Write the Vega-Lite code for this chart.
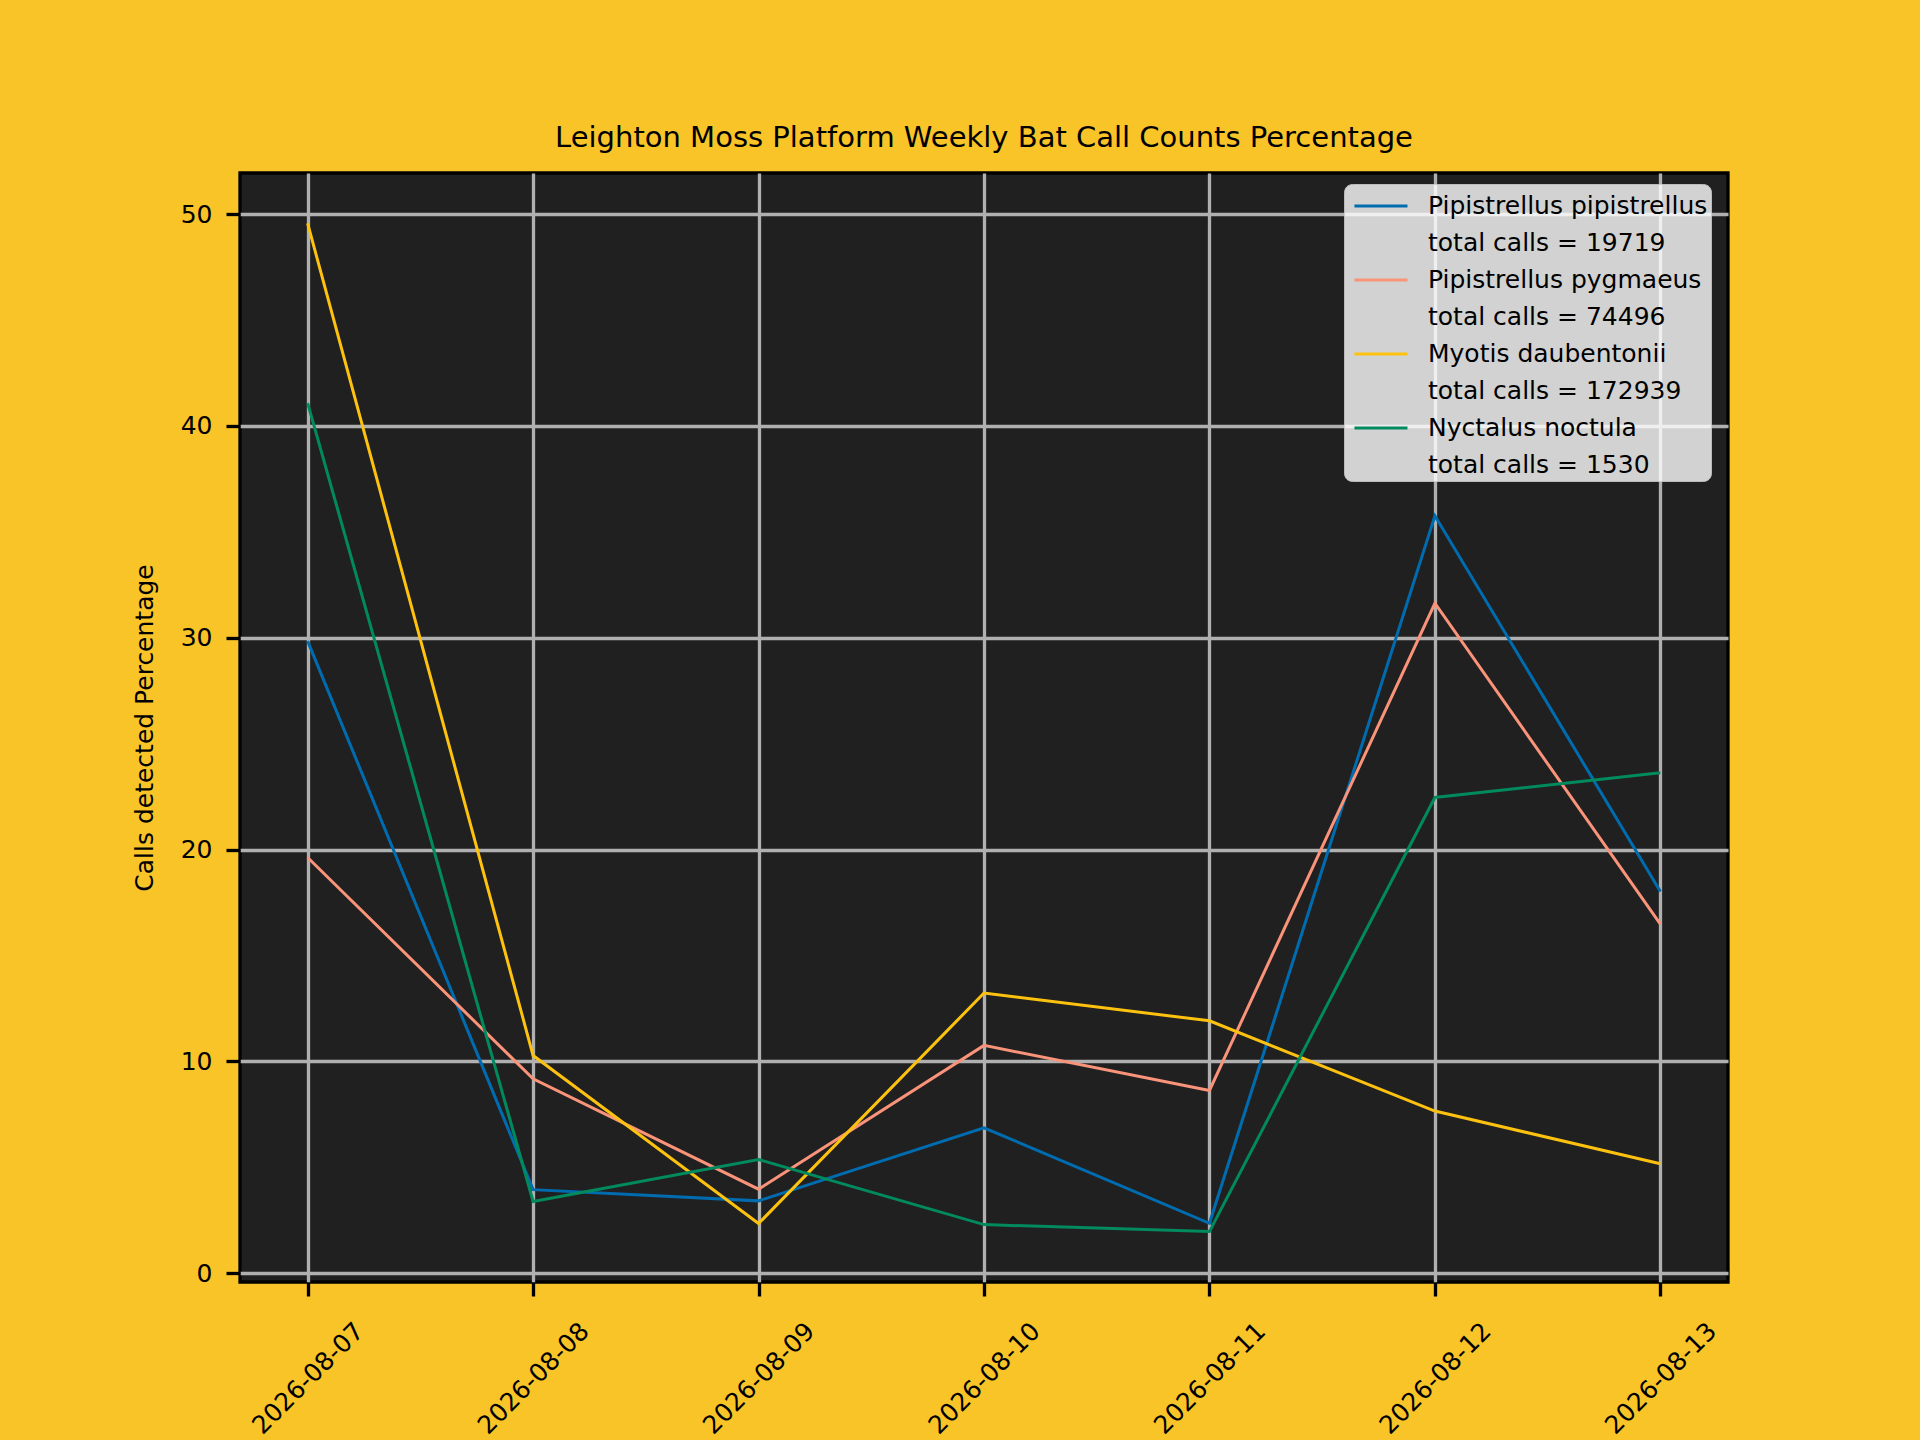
{
  "$schema": "https://vega.github.io/schema/vega-lite/v6.json",
  "autosize": {"type": "none"},
  "padding": {"left": 240, "top": 173, "right": 192, "bottom": 158},
  "width": 1488,
  "height": 1109,
  "background": "#f8c428",
  "title": {
    "text": "Leighton Moss Platform Weekly Bat Call Counts Percentage",
    "font": "DejaVu Sans",
    "fontSize": 29,
    "fontWeight": "normal",
    "color": "black",
    "anchor": "middle",
    "frame": "group",
    "baseline": "alphabetic",
    "offset": 27,
    "dy": 30
  },
  "data": {
    "values": [
      {"date": "2026-08-07", "species": "Pipistrellus pipistrellus", "percentage": 29.84},
      {"date": "2026-08-08", "species": "Pipistrellus pipistrellus", "percentage": 3.95},
      {"date": "2026-08-09", "species": "Pipistrellus pipistrellus", "percentage": 3.42},
      {"date": "2026-08-10", "species": "Pipistrellus pipistrellus", "percentage": 6.87},
      {"date": "2026-08-11", "species": "Pipistrellus pipistrellus", "percentage": 2.36},
      {"date": "2026-08-12", "species": "Pipistrellus pipistrellus", "percentage": 35.76},
      {"date": "2026-08-13", "species": "Pipistrellus pipistrellus", "percentage": 18.02},
      {"date": "2026-08-07", "species": "Pipistrellus pygmaeus", "percentage": 19.63},
      {"date": "2026-08-08", "species": "Pipistrellus pygmaeus", "percentage": 9.18},
      {"date": "2026-08-09", "species": "Pipistrellus pygmaeus", "percentage": 3.97},
      {"date": "2026-08-10", "species": "Pipistrellus pygmaeus", "percentage": 10.76},
      {"date": "2026-08-11", "species": "Pipistrellus pygmaeus", "percentage": 8.63},
      {"date": "2026-08-12", "species": "Pipistrellus pygmaeus", "percentage": 31.63},
      {"date": "2026-08-13", "species": "Pipistrellus pygmaeus", "percentage": 16.48},
      {"date": "2026-08-07", "species": "Myotis daubentonii", "percentage": 49.56},
      {"date": "2026-08-08", "species": "Myotis daubentonii", "percentage": 10.28},
      {"date": "2026-08-09", "species": "Myotis daubentonii", "percentage": 2.35},
      {"date": "2026-08-10", "species": "Myotis daubentonii", "percentage": 13.23},
      {"date": "2026-08-11", "species": "Myotis daubentonii", "percentage": 11.92},
      {"date": "2026-08-12", "species": "Myotis daubentonii", "percentage": 7.66},
      {"date": "2026-08-13", "species": "Myotis daubentonii", "percentage": 5.17},
      {"date": "2026-08-07", "species": "Nyctalus noctula", "percentage": 41.08},
      {"date": "2026-08-08", "species": "Nyctalus noctula", "percentage": 3.39},
      {"date": "2026-08-09", "species": "Nyctalus noctula", "percentage": 5.37},
      {"date": "2026-08-10", "species": "Nyctalus noctula", "percentage": 2.3},
      {"date": "2026-08-11", "species": "Nyctalus noctula", "percentage": 1.97},
      {"date": "2026-08-12", "species": "Nyctalus noctula", "percentage": 22.46},
      {"date": "2026-08-13", "species": "Nyctalus noctula", "percentage": 23.63}
    ]
  },
  "mark": {"type": "line", "strokeWidth": 3},
  "encoding": {
    "x": {
      "field": "date",
      "type": "ordinal",
      "scale": {"type": "point", "padding": 0.3},
      "axis": {
        "title": null,
        "labelAngle": -45,
        "labelAlign": "center",
        "labelBaseline": "middle",
        "labelPadding": 82,
        "labelFont": "DejaVu Sans",
        "labelFontSize": 25,
        "labelColor": "black",
        "tickSize": 14,
        "tickWidth": 3.3,
        "tickColor": "black",
        "domain": false,
        "grid": true,
        "gridColor": "#b0b0b0",
        "gridWidth": 3.3
      }
    },
    "y": {
      "field": "percentage",
      "type": "quantitative",
      "scale": {"domain": [-0.41, 51.94], "nice": false, "zero": false},
      "axis": {
        "title": "Calls detected Percentage",
        "titleFont": "DejaVu Sans",
        "titleFontSize": 25,
        "titleFontWeight": "normal",
        "titleColor": "black",
        "titlePadding": 23,
        "values": [0, 10, 20, 30, 40, 50],
        "labelFont": "DejaVu Sans",
        "labelFontSize": 25,
        "labelColor": "black",
        "labelPadding": 14,
        "tickSize": 14,
        "tickWidth": 3.3,
        "tickColor": "black",
        "domain": false,
        "grid": true,
        "gridColor": "#b0b0b0",
        "gridWidth": 3.3
      }
    },
    "color": {
      "field": "species",
      "type": "nominal",
      "sort": null,
      "scale": {
        "domain": [
          "Pipistrellus pipistrellus", "total calls = 19719",
          "Pipistrellus pygmaeus", "total calls = 74496",
          "Myotis daubentonii", "total calls = 172939",
          "Nyctalus noctula", "total calls = 1530"
        ],
        "range": [
          "#006cb0", "transparent",
          "#f99379", "transparent",
          "#fdc20f", "transparent",
          "#008a5e", "transparent"
        ]
      },
      "legend": {
        "title": null,
        "orient": "none",
        "legendX": 1104,
        "legendY": 11,
        "fillColor": "rgba(255,255,255,0.8)",
        "strokeColor": "rgba(204,204,204,0.8)",
        "cornerRadius": 8,
        "padding": 3,
        "symbolType": "M-0.66,0H2.37",
        "symbolSize": 1225,
        "symbolStrokeWidth": 3,
        "labelFont": "DejaVu Sans",
        "labelFontSize": 25,
        "labelColor": "black",
        "labelOffset": 43,
        "labelLimit": 500,
        "rowPadding": 5
      }
    }
  },
  "config": {
    "view": {"fill": "#202020", "stroke": "black", "strokeWidth": 3.3},
    "font": "DejaVu Sans"
  }
}
